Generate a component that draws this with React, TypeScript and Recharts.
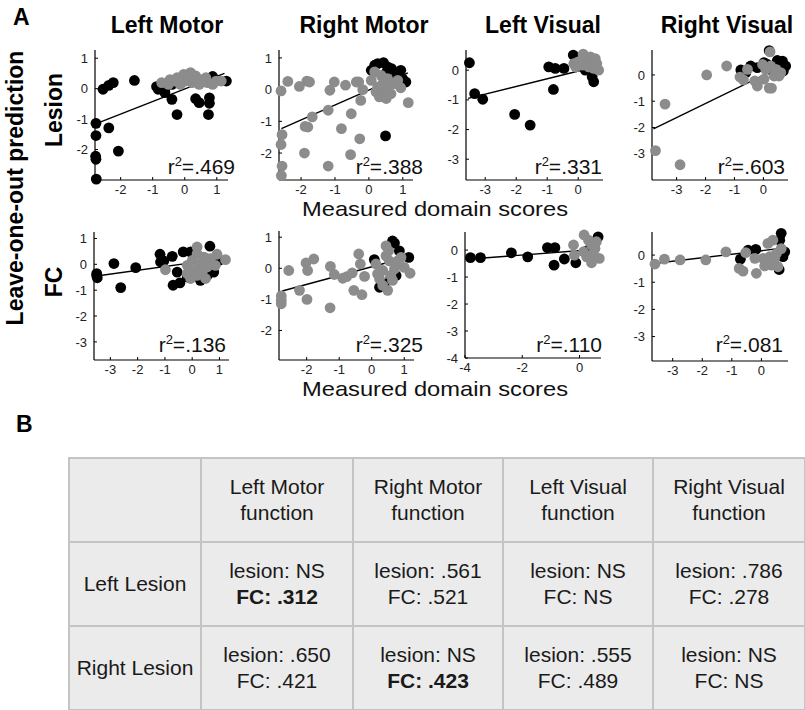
import { Scatter, ScatterChart, XAxis, YAxis } from "recharts";

// ---- data ----
const columnTitles = ["Left Motor", "Right Motor", "Left Visual", "Right Visual"];
const rowTitles = ["Lesion", "FC"];
const r2Values = [
    [".469", ".388", ".331", ".603"],
    [".136", ".325", ".110", ".081"],
];

const lmLesionBlack = [[-2.55, -0.02], [-2.37, 0.11], [-2.23, 0.2], [-1.57, 0.27], [-2.77, -1.14], [-2.77, -1.54], [-2.78, -2.22], [-2.77, -2.32], [-2.76, -2.97], [-2.37, -1.29], [-2.07, -2.05], [-0.88, 0.07], [-0.83, -0.02], [-0.62, -0.02], [-0.62, -0.13], [-0.4, -0.35], [-0.24, -0.85], [0.34, -0.33], [0.45, -0.46], [0.77, -0.3], [0.77, -0.48], [0.74, -0.85], [1.3, 0.25], [0.87, 0.4], [-0.4, 0.14]];
const lmLesionGray = [[-0.72, 0.2], [-0.46, 0.3], [-0.24, 0.36], [-0.03, 0.47], [0.18, 0.53], [0.34, 0.42], [0.55, 0.3], [0.71, 0.2], [0.98, 0.25], [1.14, 0.25], [0.02, 0.25], [0.23, 0.2], [0.45, 0.14], [0.66, 0.36], [-0.14, 0.14], [-0.3, 0.25], [0.13, 0.3], [0.87, 0.14], [0.4, 0.3], [-0.51, 0.14]];
const lmLesionFit = [[-2.74, -1.14], [1.24, 0.5]];

const rmLesionBlack = [[0.17, 0.77], [0.43, 0.85], [0.26, 0.82], [0.07, 0.61], [0.67, 0.66], [0.94, 0.61], [1.09, 0.24], [0.55, 0.72], [0.8, 0.4], [0.99, 0.35], [0.49, -1.46], [0.51, 0.53]];
const rmLesionGray = [[-2.59, -0.04], [-2.39, 0.26], [-2.05, 0.1], [-1.83, 0.27], [-1.75, 0.24], [-1.67, -0.86], [-1.88, -1.16], [-1.8, -1.18], [-1.9, -2.0], [-2.56, -1.42], [-2.59, -1.73], [-2.56, -2.41], [-2.58, -2.71], [-1.2, -0.65], [-1.15, -0.02], [-1.02, 0.24], [-0.69, 0.14], [-0.81, -1.23], [-0.52, -0.76], [-0.54, -2.05], [-0.27, -1.55], [-1.2, -2.41], [-0.37, 0.24], [-0.3, 0.24], [-0.24, -0.34], [-0.18, 0], [1.16, -0.41], [0.17, 0.56], [0.36, 0.45], [0.55, 0.35], [0.75, 0.19], [0.94, 0.06], [0.26, 0.08], [0.46, -0.02], [0.31, -0.23], [0.51, -0.28], [0.65, -0.13], [0.07, 0.29], [0.21, -0.07], [0.41, 0.19], [0.6, 0.14], [0.85, 0.29]];
const rmLesionFit = [[-2.58, -1.23], [1.15, 0.53]];

const lvLesionBlack = [[-3.51, 0.25], [-3.34, -0.79], [-3.08, -0.98], [-2.05, -1.49], [-1.55, -1.85], [-0.95, 0.11], [-0.74, 0.06], [-0.8, -0.65], [-0.46, 0.06], [-0.16, 0.51], [0.45, -0.22], [0.5, -0.39], [0.45, -0.06], [0.23, 0]];
const lvLesionGray = [[-0.14, 0.22], [0, 0.28], [0.16, 0.54], [0.29, 0.34], [0.45, 0.17], [0.55, 0.39], [0.66, 0], [0.6, 0.22], [0.13, 0.17], [0.34, 0.11], [0.5, 0.06], [0.39, 0.45], [-0.08, 0.11], [0.55, 0.11]];
const lvLesionFit = [[-3.55, -0.95], [0.5, 0.1]];

const rvLesionBlack = [[-0.78, 0.19], [-0.44, 0.34], [-0.21, 0.28], [0.02, 0.47], [0.2, 0.93], [0.48, 0.55], [0.66, 0.53], [0.77, 0.34], [0.69, 0.15], [0.48, 0.03], [0.31, 0.15], [0.14, 0.4], [-0.61, 0.09]];
const rvLesionGray = [[-3.73, -2.88], [-3.4, -1.11], [-2.88, -3.42], [-1.96, 0], [-1.27, 0.34], [-0.81, -0.08], [-0.69, -0.19], [-0.55, 0.21], [-0.3, -0.23], [-0.21, -0.42], [0.02, -0.16], [0.2, -0.5], [0.28, -0.5], [0.23, 0.88], [-0.03, 0.4], [0.25, 0.34], [0.43, 0.21], [0.6, 0.09], [0.08, 0.21], [0.37, -0.04], [0.54, -0.04]];
const rvLesionFit = [[-3.8, -2.05], [0.4, 0.2]];

const lmFcBlack = [[-3.5, -0.43], [-3.48, -0.52], [-3.5, -0.36], [-2.87, 0.03], [-2.62, -0.9], [-2.07, -0.13], [-1.18, 0.39], [-1.16, 0.09], [-1.04, 0.13], [-0.73, 0.31], [-0.7, -0.81], [-0.45, -0.72], [-0.33, 0.48], [-0.55, -0.3], [-0.06, 0.48], [0.65, 0.7], [0.79, -0.3], [0.3, -0.62], [0.55, -0.43], [-0.18, -0.49], [0.98, 0.15]];
const lmFcGray = [[-0.98, -0.21], [-0.18, -0.04], [0, 0.15], [0.18, 0.41], [0.12, -0.23], [0.3, 0.03], [0.43, 0.28], [0.55, -0.1], [0.67, 0.22], [0.85, -0.04], [1.22, 0.18], [-0.06, -0.55], [0.18, -0.43], [0.37, -0.3], [0.18, 0.67], [0.91, 0.39], [-0.18, -0.36], [0.49, -0.55]];
const lmFcFit = [[-3.5, -0.45], [0.95, 0.2]];

const rmFcBlack = [[0.64, 0.88], [0.7, 0.81], [0.08, 0.28], [0.24, -0.61], [0.59, -0.29], [0.85, 0.56], [1.14, 0.35], [0.75, -0.23], [0.39, -0.5]];
const rmFcGray = [[-2.78, -0.89], [-2.78, -1.14], [-2.78, -1.03], [-2.55, -0.07], [-2.22, -0.71], [-2.02, 0.17], [-1.97, -0.07], [-1.99, -1.0], [-1.78, 0.3], [-1.28, -1.27], [-1.27, 0.06], [-1.15, -0.2], [-0.89, -0.32], [-0.77, -0.27], [-0.6, -0.15], [-0.55, -0.71], [-0.4, 0.46], [-0.35, 0.14], [-0.3, -0.85], [-0.22, -0.26], [1.18, -0.16], [0.13, 0.14], [0.24, -0.34], [0.34, -0.07], [0.44, 0.4], [0.44, 0.72], [0.54, 0.24], [0.59, -0.23], [0.49, -0.71], [0.7, -0.02], [0.8, 0.24], [0.9, 0.35], [0.34, -0.55], [0.18, -0.18], [0.64, -0.39], [1.0, 0.03], [0.52, 0.56]];
const rmFcFit = [[-2.75, -0.73], [1.0, 0.33]];

const lvFcBlack = [[-3.81, -0.28], [-3.46, -0.28], [-2.38, -0.1], [-1.81, -0.25], [-1.12, 0.09], [-0.86, 0.09], [-0.89, -0.56], [-0.53, -0.33], [-0.13, -0.47], [0.65, 0.49], [0.31, 0]];
const lvFcGray = [[-0.21, 0.19], [-0.18, -0.19], [0.16, 0.56], [0.14, -0.06], [0.25, -0.25], [0.42, 0.19], [0.48, -0.12], [0.59, 0.31], [0.69, -0.31], [0.42, -0.47], [0.54, 0.06], [0.31, 0.37]];
const lvFcFit = [[-3.82, -0.33], [0.5, 0.02]];

const rvFcBlack = [[-0.71, -0.15], [-0.45, 0.18], [-0.19, 0.21], [0.67, 0.8], [0.79, 0.12], [0.6, -0.53], [0.62, 0.55], [0.73, -0.06]];
const rvFcGray = [[-3.6, -0.33], [-3.28, -0.15], [-2.75, -0.18], [-1.88, -0.18], [-1.2, 0.12], [-0.75, -0.49], [-0.62, -0.59], [-0.53, 0.09], [-0.22, -0.12], [-0.17, -0.67], [0.06, -0.12], [0.17, -0.24], [0.22, 0.43], [0.39, 0.55], [0.51, 0.06], [0.34, -0.37], [0.56, -0.43], [0.67, 0.24], [0.28, -0.06], [0.45, -0.12], [0.11, -0.4]];
const rvFcFit = [[-3.65, -0.31], [0.62, 0.24]];

// table B
const tableHeaders = [["Left Motor", "function"], ["Right Motor", "function"], ["Left Visual", "function"], ["Right Visual", "function"]];
const tableRows = ["Left Lesion", "Right Lesion"];
const lesionValues = [["NS", ".561", "NS", ".786"], [".650", "NS", ".555", "NS"]];
const fcValues = [[".312", ".521", "NS", ".278"], [".421", ".423", ".489", "NS"]];
const fcBold = [[true, false, false, false], [false, true, false, false]];

// ---- layout ----
const FONT = "'Liberation Sans', Arial, Helvetica, sans-serif";
const TICK_FONT = "'Liberation Sans Narrow', 'Liberation Sans', Arial, sans-serif";
const GRAY = "#8c8c8c";
const Y_W = 30;
const X_H = 26;
const M_T = 8;
const M_R = 8;

const toPts = (arr: number[][]) => arr.map(([x, y]) => ({ x, y }));

type PanelDef = {
    black: number[][];
    gray: number[][];
    fit: number[][];
    box: [number, number, number, number];
    xd: [number, number];
    yd: [number, number];
    xt: number[];
    yt: number[];
};

const panels: PanelDef[] = [
    { black: lmLesionBlack, gray: lmLesionGray, fit: lmLesionFit, box: [95, 50, 228, 180], xd: [-2.8, 1.35], yd: [-3.0, 1.27], xt: [-2, -1, 0, 1], yt: [-2, -1, 0, 1] },
    { black: rmLesionBlack, gray: rmLesionGray, fit: rmLesionFit, box: [279, 50, 413, 180], xd: [-2.65, 1.3], yd: [-2.85, 1.25], xt: [-2, -1, 0, 1], yt: [-2, -1, 0, 1] },
    { black: lvLesionBlack, gray: lvLesionGray, fit: lvLesionFit, box: [466, 50, 603, 180], xd: [-3.62, 0.8], yd: [-3.7, 0.68], xt: [-3, -2, -1, 0], yt: [-3, -2, -1, 0] },
    { black: rvLesionBlack, gray: rvLesionGray, fit: rvLesionFit, box: [652, 50, 788, 180], xd: [-3.85, 0.85], yd: [-4.0, 0.95], xt: [-3, -2, -1, 0], yt: [-3, -2, -1, 0] },
    { black: lmFcBlack, gray: lmFcGray, fit: lmFcFit, box: [94, 232, 229, 360], xd: [-3.6, 1.35], yd: [-3.7, 1.25], xt: [-3, -2, -1, 0, 1], yt: [-3, -2, -1, 0, 1] },
    { black: rmFcBlack, gray: rmFcGray, fit: rmFcFit, box: [279, 231, 414, 360], xd: [-2.85, 1.3], yd: [-2.95, 1.2], xt: [-2, -1, 0, 1], yt: [-2, -1, 0, 1] },
    { black: lvFcBlack, gray: lvFcGray, fit: lvFcFit, box: [465, 232, 601, 358], xd: [-4.0, 0.75], yd: [-4.0, 0.67], xt: [-4, -2, 0], yt: [-4, -3, -2, -1, 0] },
    { black: rvFcBlack, gray: rvFcGray, fit: rvFcFit, box: [652, 232, 788, 361], xd: [-3.7, 0.9], yd: [-3.9, 0.85], xt: [-3, -2, -1, 0], yt: [-3, -2, -1, 0] },
];

const titleX = [167, 364, 543, 727];
const r2Right = [[235, 423, 602, 785], [226, 423, 602, 783]];
const r2Base = [174, 352];
const rowLabelY = [110, 282];
const measuredY = [216, 396];

const dot = (color: string) => (props: any) => (
    <circle cx={props.cx} cy={props.cy} r={5.4} fill={color} />
);

const tickStyle = { fill: "#222", fontSize: 13, fontFamily: TICK_FONT };

const Panel = ({ p }: { p: PanelDef }) => {
    const [L, T, R, B] = p.box;
    const width = R - L + Y_W + M_R;
    const height = B - T + M_T + X_H;
    return (
        <div style={{ position: "absolute", left: L - Y_W, top: T - M_T }}>
            <ScatterChart width={width} height={height} margin={{ top: M_T, right: M_R, bottom: 0, left: 0 }}>
                <XAxis
                    type="number"
                    dataKey="x"
                    domain={p.xd}
                    ticks={p.xt}
                    interval={0}
                    height={X_H}
                    axisLine={{ stroke: "#000", strokeWidth: 1.2 }}
                    tickLine={{ stroke: "#000" }}
                    tickSize={-3}
                    tickMargin={8}
                    tick={tickStyle}
                />
                <YAxis
                    type="number"
                    dataKey="y"
                    domain={p.yd}
                    ticks={p.yt}
                    interval={0}
                    width={Y_W}
                    axisLine={{ stroke: "#000", strokeWidth: 1.2 }}
                    tickLine={{ stroke: "#000" }}
                    tickSize={-3}
                    tickMargin={10}
                    tick={tickStyle}
                />
                <Scatter
                    data={toPts(p.fit)}
                    line={{ stroke: "#000", strokeWidth: 1.4 }}
                    shape={() => <g />}
                    isAnimationActive={false}
                />
                <Scatter data={toPts(p.black)} shape={dot("#000")} isAnimationActive={false} />
                <Scatter data={toPts(p.gray)} shape={dot(GRAY)} isAnimationActive={false} />
            </ScatterChart>
        </div>
    );
};

const cellStyle = {
    border: "2px solid #c4c4c4",
    textAlign: "center" as const,
    verticalAlign: "middle" as const,
    padding: 0,
    lineHeight: "26px",
};

export default function App() {
    return (
        <div style={{ position: "absolute", left: 0, top: 0, width: 805, height: 710, background: "#fff", fontFamily: FONT, color: "#1a1a1a" }}>
            {panels.map((p, i) => (
                <Panel key={i} p={p} />
            ))}

            <svg width={805} height={710} style={{ position: "absolute", left: 0, top: 0, pointerEvents: "none" }} fontFamily={FONT}>
                <text x={13} y={25} fontSize={23} fontWeight="bold" fill="#000">A</text>
                <text x={16} y={432} fontSize={23} fontWeight="bold" fill="#000">B</text>
                {columnTitles.map((t, i) => (
                    <text key={t} x={titleX[i]} y={33} fontSize={23} fontWeight="bold" textAnchor="middle" fill="#000">{t}</text>
                ))}
                <text x={0} y={0} transform="translate(23,188) rotate(-90)" fontSize={23} fontWeight="bold" textAnchor="middle" fill="#000">
                    Leave-one-out prediction
                </text>
                {rowTitles.map((t, i) => (
                    <text key={t} x={0} y={0} transform={`translate(62,${rowLabelY[i]}) rotate(-90)`} fontSize={23} fontWeight="bold" textAnchor="middle" fill="#000">{t}</text>
                ))}
                {measuredY.map((y) => (
                    <text key={y} x={435} y={y} fontSize={21} textAnchor="middle" textLength={266} lengthAdjust="spacingAndGlyphs" fill="#111">
                        Measured domain scores
                    </text>
                ))}
                {r2Values.map((row, ri) =>
                    row.map((v, ci) => (
                        <text key={`${ri}-${ci}`} x={r2Right[ri][ci]} y={r2Base[ri]} fontSize={21} textAnchor="end" fill="#111">
                            r<tspan fontSize={13} dy={-8}>2</tspan>
                            <tspan dy={8}>={v}</tspan>
                        </text>
                    ))
                )}
            </svg>

            <table
                style={{
                    position: "absolute",
                    left: 68,
                    top: 457,
                    width: 736,
                    borderCollapse: "collapse",
                    tableLayout: "fixed",
                    background: "#ebebeb",
                    fontSize: 21,
                    color: "#1a1a1a",
                    border: "2px solid #7a7a7a",
                }}
            >
                <colgroup>
                    <col style={{ width: 132 }} />
                    <col style={{ width: 152 }} />
                    <col style={{ width: 150 }} />
                    <col style={{ width: 150 }} />
                    <col style={{ width: 152 }} />
                </colgroup>
                <tbody>
                    <tr style={{ height: 84 }}>
                        <td style={cellStyle}></td>
                        {tableHeaders.map((h) => (
                            <td key={h[0]} style={cellStyle}>
                                {h[0]}
                                <br />
                                {h[1]}
                            </td>
                        ))}
                    </tr>
                    {tableRows.map((r, ri) => (
                        <tr key={r} style={{ height: 84 }}>
                            <td style={cellStyle}>{r}</td>
                            {lesionValues[ri].map((v, ci) => (
                                <td key={ci} style={cellStyle}>
                                    lesion: {v}
                                    <br />
                                    <span style={{ fontWeight: fcBold[ri][ci] ? "bold" : "normal" }}>FC: {fcValues[ri][ci]}</span>
                                </td>
                            ))}
                        </tr>
                    ))}
                </tbody>
            </table>
        </div>
    );
}
